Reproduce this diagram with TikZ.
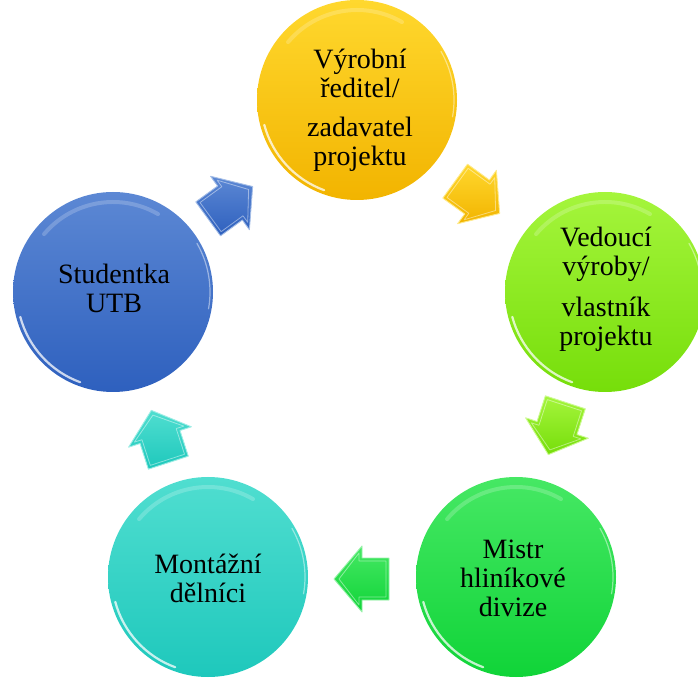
\documentclass[tikz,border=0pt]{standalone}
\usepackage{fontspec}
\setmainfont{Liberation Serif}
\definecolor{yA}{RGB}{255,216,46}
\definecolor{yB}{RGB}{242,180,0}
\definecolor{lA}{RGB}{165,245,60}
\definecolor{lB}{RGB}{118,222,10}
\definecolor{gA}{RGB}{70,232,100}
\definecolor{gB}{RGB}{16,212,56}
\definecolor{cA}{RGB}{80,222,208}
\definecolor{cB}{RGB}{30,200,188}
\definecolor{bA}{RGB}{92,136,212}
\definecolor{bB}{RGB}{46,96,190}
\newcommand\rimlight[1]{%
  \draw[white,opacity=.75,line width=2.2pt,line cap=round] ([shift={(195:96)}]#1.center) arc[start angle=195,end angle=250,radius=96];
  \draw[white,opacity=.2,line width=4pt,line cap=round] ([shift={(60:90)}]#1.center) arc[start angle=60,end angle=140,radius=90];
  \draw[white,opacity=.45,line width=1.2pt,line cap=round] ([shift={(-10:97)}]#1.center) arc[start angle=-10,end angle=30,radius=97];}
\newcommand\blockarrow[5]{%
  \begin{scope}[shift={(#1,#2)},rotate=#3]
    \path[top color=#4,bottom color=#5,draw=#4!55!white,line width=0.9pt,line join=round]
      (-27,-21) -- (0,-21) -- (0,-33) -- (28,0) -- (0,33) -- (0,21) -- (-27,21) -- cycle;
    \draw[white,opacity=.45,line width=0.8pt,line join=round]
      (-24,-18) -- (3,-18) -- (3,-26) -- (23,0) -- (3,26) -- (3,18) -- (-24,18) -- cycle;
  \end{scope}}
\begin{document}
\begin{tikzpicture}[x=1pt,y=1pt,
  bub/.style={circle,minimum size=200pt,inner sep=0pt},
  lbl/.style={align=center,anchor=base,inner sep=0pt,font=\fontsize{28}{29}\selectfont}]
\useasboundingbox (0,0) rectangle (698,680);
% circles
\node[bub,top color=yA,bottom color=yB] (top) at (357,580) {};
\node[bub,top color=lA,bottom color=lB] (right) at (605,388) {};
\node[bub,top color=gA,bottom color=gB] (bright) at (516,103) {};
\node[bub,top color=cA,bottom color=cB] (bleft) at (208,103) {};
\node[bub,top color=bA,bottom color=bB] (left) at (113,388) {};
\rimlight{top}\rimlight{right}\rimlight{bright}\rimlight{bleft}\rimlight{left}
% labels (anchored at the baseline of the last line)
\node[lbl] (ttop) at (360,514) {Výrobní\\ředitel/\\[10pt]zadavatel\\projektu};
\node[lbl] (tright) at (606,334) {Vedoucí\\výroby/\\[12pt]vlastník\\projektu};
\node[lbl] (tbright) at (513,64) {Mistr\\hliníkové\\divize};
\node[lbl] (tbleft) at (208,78) {Montážní\\dělníci};
\node[lbl] (tleft) at (114,367) {Studentka\\UTB};
% arrows
\blockarrow{230}{477}{36}{bA}{bB}
\blockarrow{477}{483}{-36}{yA}{yB}
\blockarrow{557}{252}{-108}{lA}{lB}
\blockarrow{362}{101}{180}{gA}{gB}
\blockarrow{160}{243}{108}{cA}{cB}
\end{tikzpicture}
\end{document}
